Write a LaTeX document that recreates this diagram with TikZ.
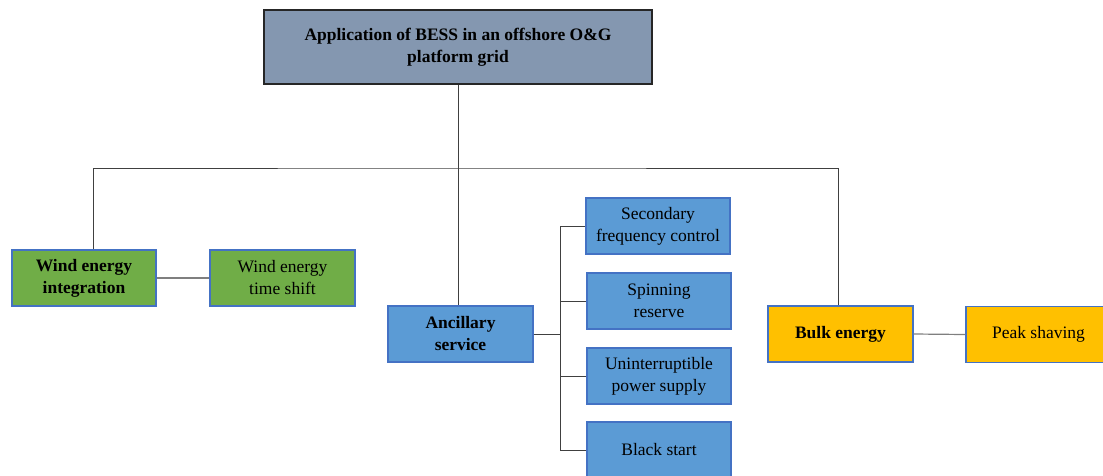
\documentclass[tikz,border=0pt]{standalone}
\usepackage{fontspec}
\setmainfont{Liberation Serif}
\definecolor{topfill}{HTML}{8497B0}
\definecolor{greenfill}{HTML}{70AD47}
\definecolor{bluefill}{HTML}{5B9BD5}
\definecolor{goldfill}{HTML}{FFC000}
\definecolor{boxedge}{HTML}{4472C4}
\definecolor{conn}{HTML}{404040}
\definecolor{conn2}{HTML}{7F7F7F}
\begin{document}
\begin{tikzpicture}[x=1pt,y=-1pt,
  box/.style={draw=boxedge,line width=1.4pt,minimum width=144pt,minimum height=56pt,inner sep=2pt,align=center,font=\fontsize{17.5}{22}\selectfont},
  bbox/.style={box,font=\fontsize{17.5}{22}\selectfont\bfseries},
  link/.style={draw=conn,line width=1pt},
  link2/.style={draw=conn2,line width=1.2pt}]
\useasboundingbox (0,0) rectangle (1103,475);
\node[box,draw=black!85,line width=1.6pt,fill=topfill,minimum width=388pt,minimum height=74pt,font=\fontsize{17.5}{22}\selectfont\bfseries] (top) at (458,47) {Application of BESS in an offshore O\&G\\platform grid};
\node[bbox,fill=greenfill] (wei) at (84,278) {Wind energy\\integration};
\node[box,fill=greenfill,minimum width=145pt] (wts) at (282.5,278) {Wind energy\\time shift};
\node[bbox,fill=bluefill,minimum width=145pt] (anc) at (460.5,334) {Ancillary\\service};
\node[box,fill=bluefill] (sfc) at (658,226) {Secondary\\frequency control};
\node[box,fill=bluefill] (spr) at (659,301) {Spinning\\reserve};
\node[box,fill=bluefill] (ups) at (659,376) {Uninterruptible\\power supply};
\node[box,fill=bluefill] (bls) at (659,450) {Black start};
\node[bbox,fill=goldfill,minimum width=145pt] (blk) at (840.5,334) {Bulk energy};
\node[box,fill=goldfill,minimum width=145pt] (pks) at (1038.5,334.5) {Peak shaving};
\coordinate (bus) at (458,168);
\coordinate (ab) at (560,334);
\draw[link] (top.south) -- (bus);
\draw[link] (wei.north -| 93,0) |- (bus) -| (blk.north -| 838,0);
\draw[link] (bus) -- (anc.north -| bus);
\draw[link2] (wei.east) -- (wts.west);
\draw[link2] (blk.east) -- (pks.west);
\draw[link] (anc.east) -- (ab);
\draw[link] (sfc.west) -| (ab);
\draw[link] (bls.west) -| (ab);
\draw[link] (spr.west) -- (spr.west -| ab);
\draw[link] (ups.west) -- (ups.west -| ab);
\end{tikzpicture}
\end{document}
